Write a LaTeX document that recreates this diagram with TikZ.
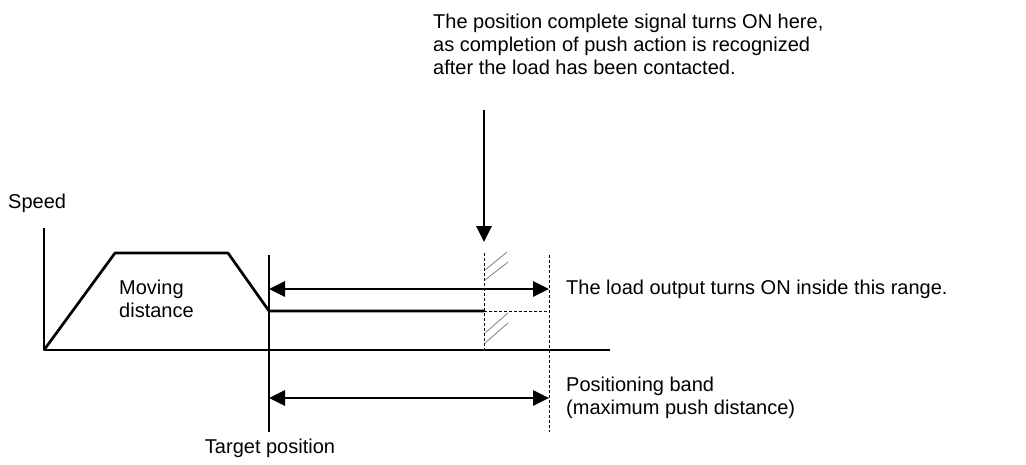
\documentclass[tikz,border=0pt]{standalone}
\usepackage{fontspec}
\setmainfont{Liberation Sans}
\usetikzlibrary{arrows.meta,positioning}

\begin{document}
\begin{tikzpicture}[
  x=1pt, y=-1pt,
  font=\fontsize{20}{23}\selectfont,
  label/.style={inner sep=0pt, align=left},
  curve/.style={line width=2.7pt, line join=round},
  arrow/.style={line width=2.7pt, -{Triangle[length=16pt, width=15pt]}},
  twoway/.style={line width=2.7pt, {Triangle[length=16pt, width=15pt]}-{Triangle[length=16pt, width=15pt]}},
  guide/.style={line width=0.8pt, dashed, dash pattern=on 3pt off 2pt},
  hatch/.style={line width=0.8pt, gray}
]
\useasboundingbox (0,0) rectangle (1026,464);

% axes and speed profile
\coordinate (origin) at (44,350);
\coordinate (ytop) at (44,228);
\coordinate (xend) at (610,350);
\coordinate (acc) at (115,253);
\coordinate (dec) at (228,253);
\coordinate (target) at (269,311);
\coordinate (push) at (484,311);
\coordinate (bandend) at (549,311);

\draw[curve] (ytop) -- (origin) -- (xend);
\draw[curve] (origin) -- (acc) -- (dec) -- (target) -- (push);

% target position line and band limits
\coordinate (ttop) at (269,255);
\coordinate (tbot) at (269,432);
\draw[line width=2.7pt] (ttop) -- (tbot);
\coordinate (ptop) at (484,253);
\coordinate (pbot) at (484,350);
\draw[guide] (ptop) -- (pbot);
\coordinate (btop) at (549,255);
\coordinate (bbot) at (549,432);
\draw[guide] (btop) -- (bbot);
\draw[guide] (push) -- (bandend);

% hatching
\draw[hatch] (485,270) -- (507,252);
\draw[hatch] (485,280) -- (508,262);
\draw[hatch] (485,333) -- (508,313);
\draw[hatch] (485,343) -- (508,323);

% ranges
\coordinate (r1a) at (269,289);
\coordinate (r1b) at (549,289);
\draw[twoway] (r1a) -- (r1b);
\coordinate (r2a) at (269,398);
\coordinate (r2b) at (549,398);
\draw[twoway] (r2a) -- (r2b);

% signal arrow
\coordinate (sig) at (484,110);
\coordinate (sigtip) at (484,242);
\draw[arrow] (sig) -- (sigtip);

% labels
\node[label, anchor=west] (speed) at (8,203) {Speed};
\node[label, anchor=west] (moving) at (119,299) {Moving\\distance};
\node[label, anchor=west] (note) at (433,44) {The position complete signal turns ON here,\\as completion of push action is recognized\\after the load has been contacted.};
\node[label, anchor=west] (loadout) at (566,289) {The load output turns ON inside this range.};
\node[label, anchor=west] (band) at (566,398) {Positioning band\\(maximum push distance)};
\node[label] (tpos) at (270,448) {Target position};

\end{tikzpicture}
\end{document}
